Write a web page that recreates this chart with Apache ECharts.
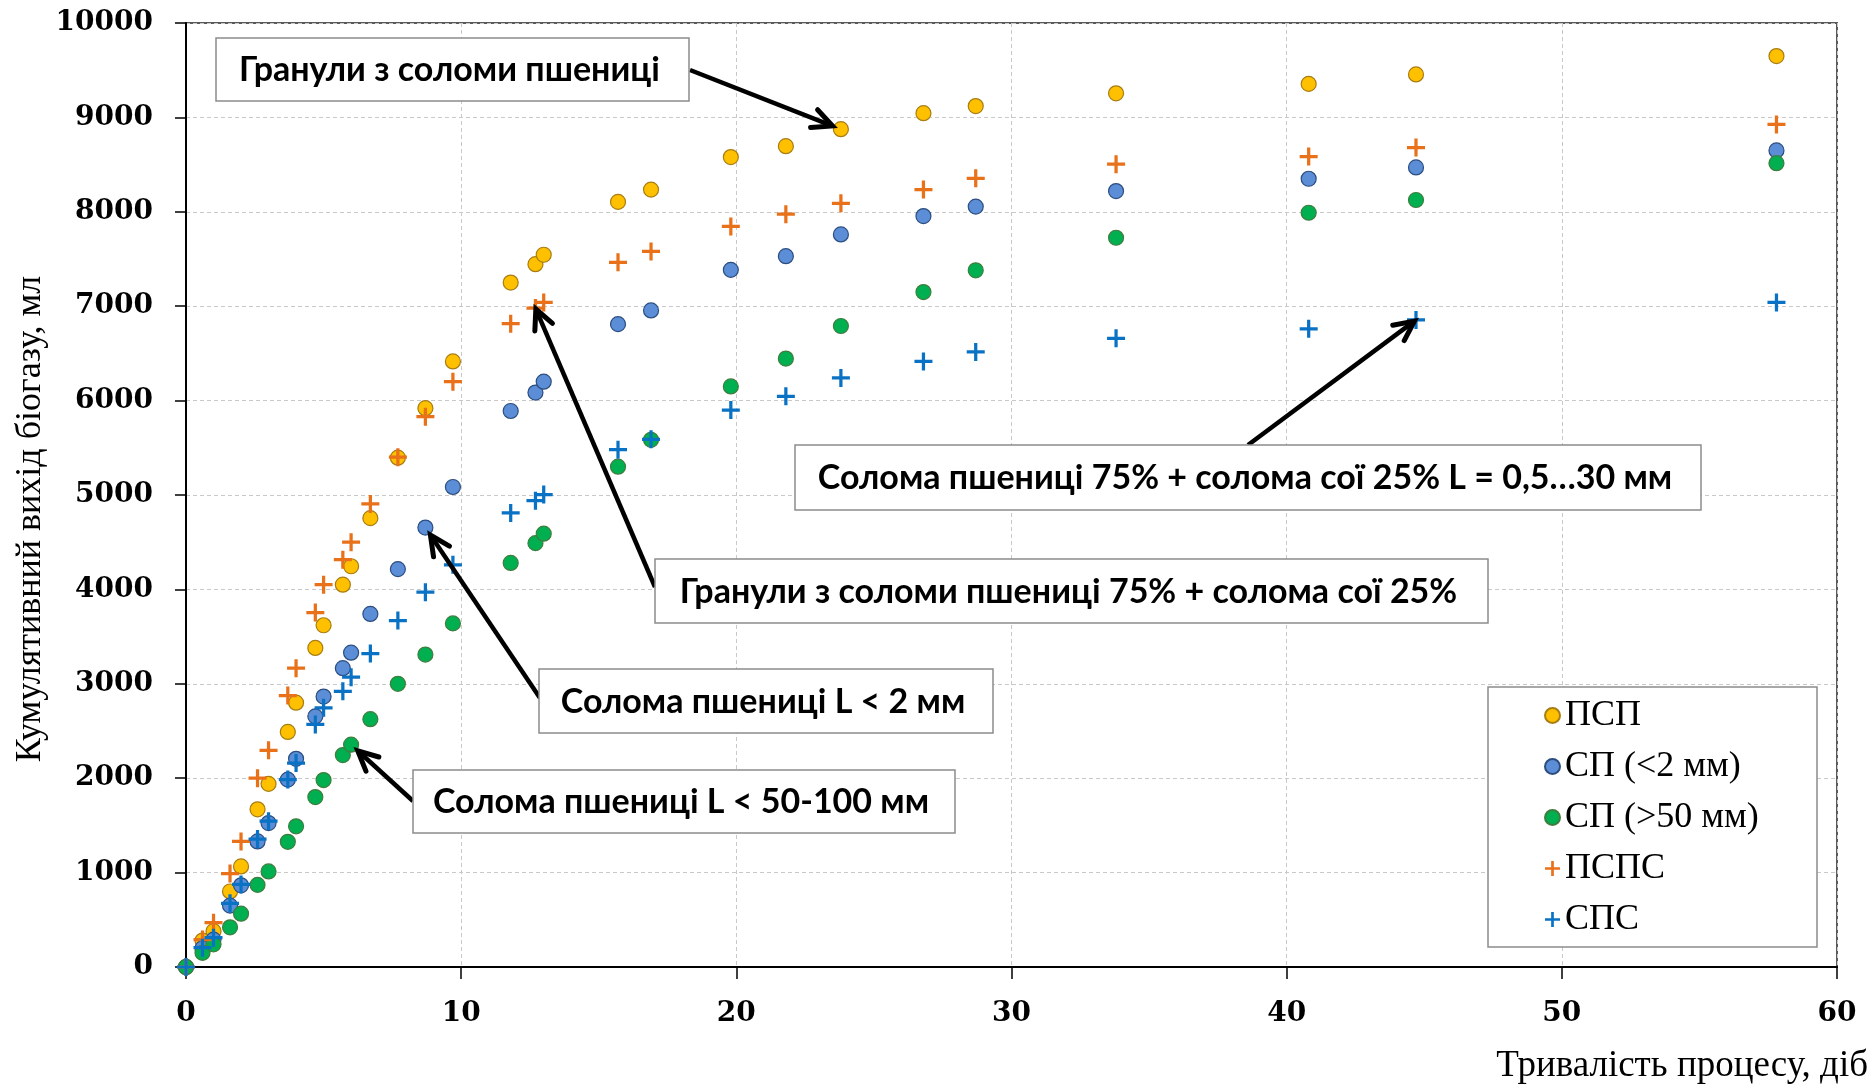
<!DOCTYPE html>
<html>
<head>
<meta charset="utf-8">
<script src="https://cdn.jsdelivr.net/npm/echarts@6/dist/echarts.min.js"></script>
<style>
  html, body { margin: 0; padding: 0; background: #ffffff; }
  #chart { width: 1872px; height: 1088px; }
</style>
</head>
<body>
<div id="chart"></div>
<script>
// Measurement times, days
const days = [0, 0.6, 1, 1.6, 2, 2.6, 3, 3.7, 4, 4.7, 5, 5.7, 6, 6.7, 7.7, 8.7, 9.7,
  11.8, 12.7, 13, 15.7, 16.9, 19.8, 21.8, 23.8, 26.8, 28.7, 33.8, 40.8, 44.7, 57.8];

// Cumulative biogas yield, ml
const psp = [0, 280, 380, 800, 1065, 1670, 1940, 2490, 2800, 3380, 3620, 4050, 4245, 4755, 5395,
  5920, 6415, 7250, 7445, 7545, 8105, 8235, 8580, 8695, 8875, 9045, 9120, 9255, 9355, 9455, 9650];
const spFine = [0, 200, 290, 650, 865, 1330, 1525, 1985, 2205, 2655, 2865, 3165, 3330, 3740, 4215,
  4655, 5085, 5890, 6085, 6200, 6810, 6955, 7385, 7530, 7760, 7955, 8055, 8220, 8350, 8470, 8650];
const spCoarse = [0, 150, 240, 420, 565, 870, 1012, 1326, 1490, 1800, 1980, 2245, 2355, 2625, 3000,
  3310, 3640, 4280, 4490, 4590, 5300, 5585, 6150, 6445, 6790, 7150, 7380, 7725, 7990, 8125, 8515];
const psps = [0, 290, 470, 990, 1330, 2000, 2295, 2875, 3165, 3755, 4050, 4315, 4500, 4905, 5400,
  5830, 6200, 6815, 6980, 7040, 7465, 7580, 7845, 7975, 8090, 8235, 8355, 8505, 8585, 8680, 8925];
const sps = [0, 205, 310, 675, 875, 1355, 1545, 1985, 2160, 2570, 2745, 2920, 3070, 3320, 3670,
  3970, 4260, 4810, 4940, 5005, 5480, 5590, 5900, 6045, 6240, 6415, 6515, 6660, 6760, 6855, 7040];

const seriesNames = ['ПСП', 'СП (<2 мм)', 'СП (>50 мм)', 'ПСПС', 'СПС'];
const xTicks = [0, 10, 20, 30, 40, 50, 60];
const yTicks = [0, 1000, 2000, 3000, 4000, 5000, 6000, 7000, 8000, 9000, 10000];

const xTitle = 'Тривалість процесу, діб';
const yTitle = 'Кумулятивний вихід біогазу, мл';

// Callouts: text, target series index, target day
const callouts = [
  { text: 'Гранули з соломи пшениці', series: 0, day: 23.8 },
  { text: 'Солома пшениці 75% + солома сої 25% L = 0,5…30 мм', series: 4, day: 44.7 },
  { text: 'Гранули з соломи пшениці 75% + солома сої 25%', series: 3, day: 12.7 },
  { text: 'Солома пшениці L < 2 мм', series: 1, day: 8.7 },
  { text: 'Солома пшениці L < 50-100 мм', series: 2, day: 6 }
];
// Box geometry and arrow start for each callout (px)
const calloutBoxes = [
  { x: 216, y: 38, w: 473, h: 63, sx: 690, sy: 70, gap: 9 },
  { x: 795, y: 445, w: 906, h: 65, sx: 1248, sy: 445, gap: 2 },
  { x: 655, y: 559, w: 833, h: 64, sx: 655, sy: 587, gap: 1 },
  { x: 539, y: 669, w: 454, h: 64, sx: 540, sy: 698, gap: 9 },
  { x: 413, y: 770, w: 542, h: 63, sx: 413, sy: 801, gap: 9 }
];

const pairs = vals => days.map((d, i) => [d, vals[i]]);
const allValues = [psp, spFine, spCoarse, psps, sps];

const PLUS = 'path://M41,0H59V41H100V59H59V100H41V59H0V41H41Z';

const chart = echarts.init(document.getElementById('chart'), null, { renderer: 'canvas' });

const axisLabelStyle = {
  fontFamily: 'DejaVu Serif', fontWeight: 'bold', fontSize: 28, color: '#000',
  formatter: v => String(v)
};
const gridLine = { show: true, lineStyle: { color: '#c9c9c9', width: 1, type: [4, 3] } };

const circleSeries = (name, vals, fill, border) => ({
  name, type: 'scatter', data: pairs(vals), symbol: 'circle', symbolSize: 15,
  itemStyle: { color: fill, borderColor: border, borderWidth: 1.2, opacity: 1 },
  emphasis: { disabled: true }, z: 3
});
const plusSeries = (name, vals, color) => ({
  name, type: 'scatter', data: pairs(vals), symbol: PLUS, symbolSize: 18,
  itemStyle: { color, opacity: 1 }, emphasis: { disabled: true }, z: 4
});

const option = {
  animation: false,
  backgroundColor: '#ffffff',
  grid: {
    left: 186, top: 23, width: 1651, height: 944,
    show: true, borderColor: '#5a5a5a', borderWidth: 2, backgroundColor: 'transparent'
  },
  xAxis: {
    type: 'value', min: xTicks[0], max: xTicks[xTicks.length - 1], interval: 10,
    axisLine: { show: true, onZero: false, lineStyle: { color: '#000', width: 2 } },
    axisTick: { show: true, inside: false, length: 12, lineStyle: { color: '#000', width: 1.5 } },
    axisLabel: Object.assign({ margin: 33 }, axisLabelStyle),
    splitLine: gridLine
  },
  yAxis: {
    type: 'value', min: yTicks[0], max: yTicks[yTicks.length - 1], interval: 1000,
    axisLine: { show: true, onZero: false, lineStyle: { color: '#000', width: 2 } },
    axisTick: { show: true, inside: false, length: 11, lineStyle: { color: '#000', width: 1.5 } },
    axisLabel: Object.assign({ margin: 33 }, axisLabelStyle),
    splitLine: gridLine
  },
  legend: {
    orient: 'vertical', left: 1544, top: 697, padding: 0,
    itemWidth: 15, itemHeight: 15, itemGap: 14,
    selectedMode: false, z: 10,
    data: seriesNames,
    textStyle: { fontFamily: 'Liberation Serif', fontSize: 36, color: '#000', lineHeight: 37 }
  },
  series: [
    circleSeries(seriesNames[0], psp, '#ffc000', '#a87d12'),
    circleSeries(seriesNames[1], spFine, '#5b8ed6', '#2c4d80'),
    circleSeries(seriesNames[2], spCoarse, '#00b050', '#3f7d3f'),
    plusSeries(seriesNames[3], psps, '#e8711a'),
    plusSeries(seriesNames[4], sps, '#0a72c4')
  ]
};

chart.setOption(option);

// Titles, legend frame and callout boxes with arrows
function buildGraphics() {
  const els = [];
  els.push({
    type: 'text', x: 31, y: 519, rotation: Math.PI / 2, z: 10,
    style: { text: yTitle, font: '36px "Liberation Serif"', fill: '#000',
      align: 'center', verticalAlign: 'middle', textAlign: 'center', textVerticalAlign: 'middle' }
  });
  els.push({
    type: 'text', x: 1868, y: 1066, z: 10,
    style: { text: xTitle, font: '37px "Liberation Serif"', fill: '#000',
      align: 'right', verticalAlign: 'middle', textAlign: 'right', textVerticalAlign: 'middle' }
  });
  els.push({
    type: 'rect', z: 5, shape: { x: 1488, y: 687, width: 329, height: 260 },
    style: { fill: '#fff', stroke: '#8c8c8c', lineWidth: 1.5 }
  });

  callouts.forEach((c, i) => {
    const b = calloutBoxes[i];
    const idx = days.indexOf(c.day);
    const p = chart.convertToPixel({ seriesIndex: c.series }, [c.day, allValues[c.series][idx]]);
    const dx = b.sx - p[0], dy = b.sy - p[1];
    const len = Math.hypot(dx, dy);
    const ux = dx / len, uy = dy / len;
    const tx = p[0] + ux * b.gap, ty = p[1] + uy * b.gap;
    const headLen = 22, ang = 0.45;
    const h1 = [tx + headLen * (ux * Math.cos(ang) - uy * Math.sin(ang)),
                ty + headLen * (uy * Math.cos(ang) + ux * Math.sin(ang))];
    const h2 = [tx + headLen * (ux * Math.cos(-ang) - uy * Math.sin(-ang)),
                ty + headLen * (uy * Math.cos(-ang) + ux * Math.sin(-ang))];
    els.push({
      type: 'line', z: 6,
      shape: { x1: b.sx, y1: b.sy, x2: tx + ux * 3, y2: ty + uy * 3 },
      style: { stroke: '#000', lineWidth: 4.5, lineCap: 'butt' }
    });
    els.push({
      type: 'polyline', z: 6,
      shape: { points: [h1, [tx, ty], h2] },
      style: { stroke: '#000', lineWidth: 5, fill: null, lineJoin: 'miter', lineCap: 'round' }
    });
    els.push({
      type: 'rect', z: 7, shape: { x: b.x, y: b.y, width: b.w, height: b.h },
      style: { fill: '#fff', stroke: '#8c8c8c', lineWidth: 1.5 }
    });
    els.push({
      type: 'text', z: 8, x: b.x + b.w / 2 - 3, y: b.y + b.h / 2 + 1,
      style: { text: c.text, font: 'bold 34px Lato', fill: '#000',
        align: 'center', verticalAlign: 'middle', textAlign: 'center', textVerticalAlign: 'middle' }
    });
  });
  return els;
}

chart.setOption({ graphic: { elements: buildGraphics() } });
</script>
</body>
</html>
